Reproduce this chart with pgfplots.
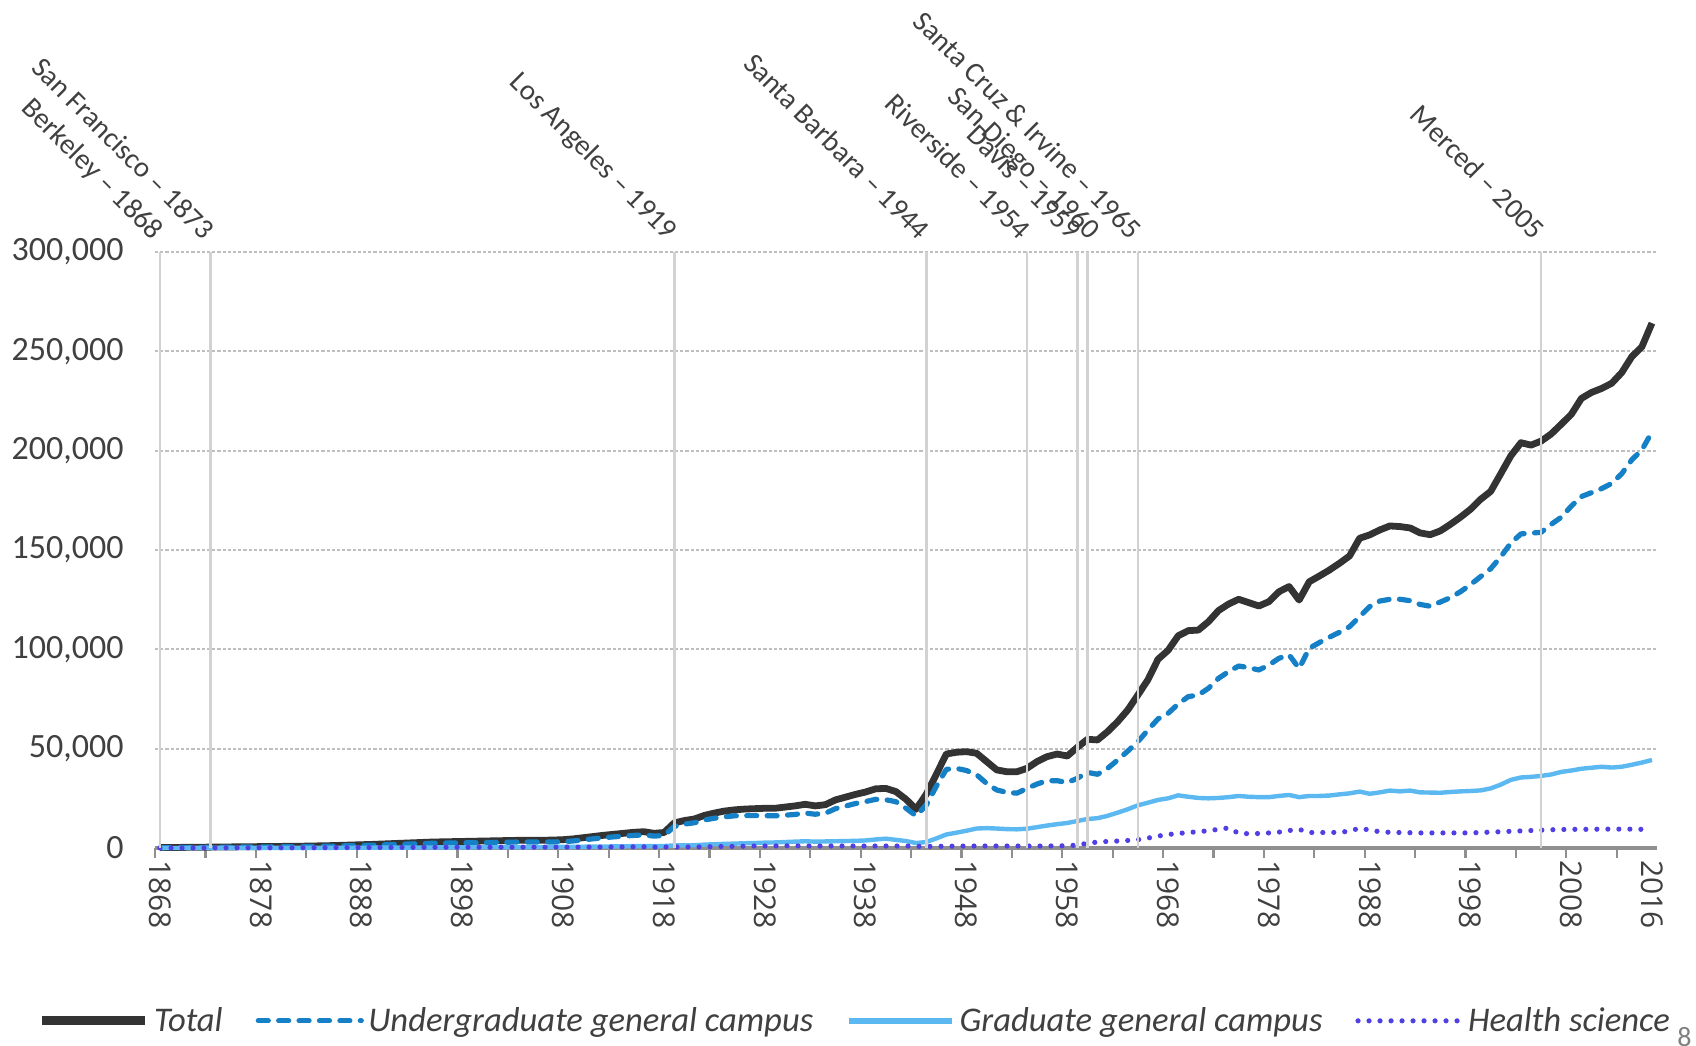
\documentclass[border=0pt]{standalone}
\usepackage{fontspec}
\setmainfont{Carlito}
\newfontfamily\xfont{Open Sans}
\usepackage{pgfplots}
\usepackage{pgfplotstable}
\pgfplotsset{compat=1.18}
\definecolor{cTotal}{HTML}{333333}
\definecolor{cUG}{HTML}{1580C6}
\definecolor{cGR}{HTML}{5BB8F0}
\definecolor{cHS}{HTML}{5040E4}
\definecolor{cTxt}{HTML}{404040}
\definecolor{cGrid}{HTML}{BFBFBF}
\definecolor{cVline}{HTML}{D2D2D2}
\definecolor{cAxis}{HTML}{8F8F8F}

\pgfplotstableread{
year total ug grad hs
1868 200 150 20 30
1869 250 200 20 30
1870 300 240 20 40
1871 350 280 30 40
1872 400 310 30 50
1873 450 350 30 60
1874 500 390 40 70
1875 550 430 40 80
1876 600 470 40 90
1877 650 500 50 100
1878 700 540 50 110
1879 750 580 60 110
1880 800 620 60 120
1881 850 660 70 120
1882 900 700 70 130
1883 1000 780 80 140
1884 1100 860 90 150
1885 1200 940 100 160
1886 1350 1060 110 180
1887 1500 1180 120 200
1888 1650 1300 130 220
1889 1800 1420 150 230
1890 2000 1580 170 250
1891 2200 1740 190 270
1892 2400 1900 210 290
1893 2600 2060 230 310
1894 2800 2220 250 330
1895 3000 2380 270 350
1896 3100 2450 290 360
1897 3200 2520 310 370
1898 3300 2600 330 370
1899 3400 2680 350 370
1900 3500 2750 380 370
1901 3600 2820 400 380
1902 3700 2900 420 380
1903 3800 2960 440 400
1904 3900 3020 460 420
1905 3900 3000 480 420
1906 3900 2980 500 420
1907 4000 3040 520 440
1908 4200 3200 560 440
1909 4600 3550 600 450
1910 5200 4100 650 450
1911 5800 4650 700 450
1912 6400 5200 750 450
1913 6900 5600 800 500
1914 7400 6000 850 550
1915 7900 6350 950 600
1916 8200 6600 1000 600
1917 7400 6000 950 450
1918 7800 6300 1000 500
1919 12600 10800 1300 500
1920 13800 12000 1300 500
1921 14600 12700 1400 500
1922 16400 14100 1700 600
1923 17600 15000 1900 700
1924 18600 15700 2100 800
1925 19200 16200 2200 800
1926 19600 16300 2400 900
1927 19800 16300 2500 1000
1928 20000 16300 2700 1000
1929 20000 16200 2800 1000
1930 20600 16500 3000 1100
1931 21200 16900 3200 1100
1932 22000 17600 3400 1000
1933 21200 17000 3200 1000
1934 21800 17500 3300 1000
1935 24200 19800 3400 1000
1936 25600 21100 3500 1000
1937 27000 22400 3600 1000
1938 28200 23400 3800 1000
1939 29800 24500 4300 1000
1940 30000 24300 4700 1000
1941 28400 23300 4100 1000
1942 24500 20000 3500 1000
1943 19500 16200 2500 800
1944 27000 21500 3000 800
1945 37000 31000 4800 800
1946 47300 39600 6800 900
1947 48200 40100 7700 900
1948 48500 39000 8700 1000
1949 47700 36900 9800 1000
1950 43500 32500 10000 1000
1951 39300 29200 9800 1000
1952 38400 28000 9500 1000
1953 38400 27600 9400 1000
1954 40100 30000 9700 1000
1955 43500 32200 10500 1000
1956 46000 33900 11300 1000
1957 47300 33900 12000 1100
1958 46300 32900 12600 1100
1959 50700 35100 13600 1500
1960 54700 38100 14600 2400
1961 54400 37100 15000 3000
1962 58600 40100 16200 3300
1963 63600 44300 17800 3500
1964 69500 48800 19500 3800
1965 77000 53500 21500 4200
1966 84700 59400 22800 5000
1967 95000 65000 24200 6000
1968 99500 67800 25000 6800
1969 106800 72500 26500 7300
1970 109400 76200 25800 7800
1971 109700 77000 25200 8200
1972 113900 80400 25000 8700
1973 119500 85400 25200 9400
1974 122800 88800 25600 10100
1975 125200 91600 26200 7400
1976 123500 90800 25800 7200
1977 121800 89600 25600 7300
1978 124000 92100 25600 7600
1979 129000 95500 26200 8000
1980 131600 97200 26700 8800
1981 124800 90400 25600 9400
1982 134000 100500 26200 7800
1983 136900 103400 26200 7800
1984 139900 106100 26400 7800
1985 143300 108600 27000 7900
1986 147000 111400 27500 8500
1987 155900 116500 28400 10000
1988 157600 121500 27300 9000
1989 160100 124300 28000 8200
1990 162100 125200 28900 7900
1991 161800 125200 28500 7800
1992 161100 124500 28900 7700
1993 158600 122600 28000 7600
1994 157700 121700 27900 7600
1995 159600 123800 27800 7600
1996 162900 126000 28200 7600
1997 166500 129000 28500 7600
1998 170500 132600 28700 7600
1999 175500 136600 29000 7800
2000 179500 140600 30000 8000
2001 188400 146600 31900 8200
2002 197400 153500 34300 8400
2003 204000 158100 35500 8600
2004 202800 158500 35800 8800
2005 204800 158900 36300 9000
2006 208400 162900 37000 9200
2007 213300 166500 38300 9300
2008 218300 172100 39000 9400
2009 226300 176900 39900 9400
2010 229300 178900 40400 9400
2011 231300 180900 40900 9500
2012 233900 183500 40500 9500
2013 239300 188400 40900 9500
2014 247300 195400 41900 9500
2015 252300 200400 43000 9400
2016 264200 209400 44300 nan
}\enroll

\begin{document}
\begin{tikzpicture}
\useasboundingbox (-77.5bp,-99bp) rectangle (770.5bp,424bp);
\begin{axis}[
  at={(0,0)}, anchor=south west,
  scale only axis, width=751bp, height=298bp,
  xmin=1867.5, xmax=2016.5, ymin=0, ymax=300000,
  clip=false,
  axis x line*=bottom, axis y line*=left,
  y axis line style={draw=none},
  x axis line style={draw=cAxis, line width=1.7bp, -},
  /pgf/number format/assume math mode=true,
  xtick={1867.5,1872.5,1877.5,1882.5,1887.5,1892.5,1897.5,1902.5,1907.5,1912.5,1917.5,1922.5,1927.5,1932.5,1937.5,1942.5,1947.5,1952.5,1957.5,1962.5,1967.5,1972.5,1977.5,1982.5,1987.5,1992.5,1997.5,2002.5,2007.5,2012.5},
  xticklabels={},
  xtick align=outside,
  major tick length=5bp,
  x tick style={draw=cAxis, line width=1.1bp},
  extra x ticks={1868,1878,1888,1898,1908,1918,1928,1938,1948,1958,1968,1978,1988,1998,2008,2016},
  extra x tick labels={1868,1878,1888,1898,1908,1918,1928,1938,1948,1958,1968,1978,1988,1998,2008,2016},
  extra x tick style={major tick length=0pt, x tick style={draw=none}},
  xticklabel shift=6bp,
  xticklabel style={rotate=-90, anchor=west, inner sep=0pt, text=cTxt,
    font=\xfont\fontsize{15bp}{18bp}\selectfont},
  ytick={0,50000,100000,150000,200000,250000,300000},
  scaled y ticks=false,
  y tick style={draw=none},
  yticklabel shift=15.5bp,
  yticklabel style={anchor=east, inner sep=0pt, text=cTxt,
    font=\fontsize{17bp}{20bp}\selectfont,
    /pgf/number format/fixed, /pgf/number format/1000 sep={,}},
  ymajorgrids,
  y grid style={cGrid, line width=1.1bp, dash pattern=on 1.6bp off 1bp},
  legend columns=4,
  legend image code/.code={\draw[#1] (0bp,0bp) -- (51.5bp,0bp);},
  legend style={at={(axis description cs:-0.0782,-0.290)}, anchor=west,
    draw=none, fill=none, inner sep=0pt, outer sep=0pt,
    font=\itshape\fontsize{17.3bp}{20bp}\selectfont, text=cTxt,
    nodes={inner sep=0pt},
    /tikz/every odd column/.append style={column sep=2.2bp},
    /tikz/every even column/.append style={column sep=16.5bp}},
]
\addplot[cTotal, line width=3.4bp, line join=round, legend image post style={line width=4.6bp}]
  table[x=year, y=total] {\enroll};
\addlegendentry{Total}
\addplot[cUG, line width=2.6bp, line cap=round, line join=round, dash pattern=on 5bp off 5.2bp]
  table[x=year, y=ug] {\enroll};
\addlegendentry{Undergraduate general campus}
\addplot[cGR, line width=2.2bp, line join=round, legend image post style={line width=3bp}]
  table[x=year, y=grad] {\enroll};
\addlegendentry{Graduate general campus}
\addplot[cHS, line width=2.6bp, line cap=round, dash pattern=on 0bp off 5.5bp]
  table[x=year, y=hs] {\enroll};
\addlegendentry{Health science}

% campus opening lines
\addplot[ycomb, draw=cVline, line width=1.35bp, forget plot] coordinates {
  (1868,300000) (1873,300000) (1919,300000) (1944,300000) (1954,300000)
  (1959,300000) (1960,300000) (1965,300000) (2005,300000)};
% campus labels
\addplot[draw=none, forget plot, nodes near coords, point meta=explicit symbolic,
  nodes near coords style={xshift=-3.8bp, anchor=base east, rotate=-45, inner sep=0pt, text=cTxt,
    font=\fontsize{14.4bp}{17bp}\selectfont}] coordinates {
  (1868,305300) [Berkeley – 1868]
  (1873,305300) [San Francisco – 1873]
  (1919,305300) [Los Angeles – 1919]
  (1944,305300) [Santa Barbara – 1944]
  (1954,305300) [Riverside – 1954]
  (1959,305300) [Davis – 1959]
  (1965,305300) [Santa Cruz \& Irvine – 1965]
  (2005,305300) [Merced – 2005]};
\addplot[draw=none, forget plot, nodes near coords, point meta=explicit symbolic,
  nodes near coords style={xshift=1bp, anchor=base east, rotate=-45, inner sep=0pt, text=cTxt,
    font=\fontsize{14.4bp}{17bp}\selectfont}] coordinates {
  (1960,305300) [San Diego – 1960]};
\node[anchor=north west, inner sep=0pt, text=gray, font=\fontsize{14bp}{16bp}\selectfont]
  at (axis description cs:1.0133,-0.3003) {8};
\end{axis}
\end{tikzpicture}
\end{document}
